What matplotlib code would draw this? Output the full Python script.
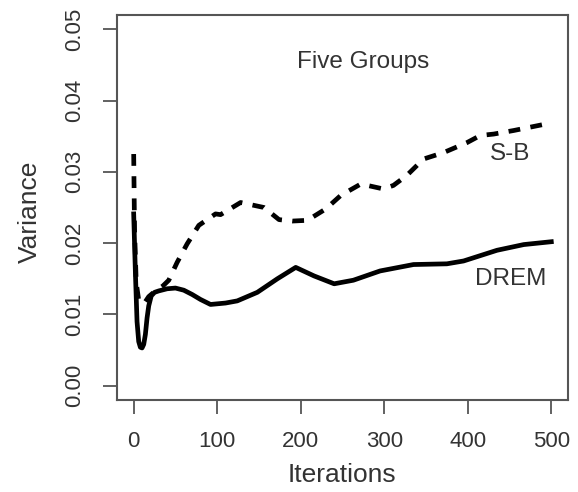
import matplotlib
matplotlib.use("Agg")
import matplotlib.pyplot as plt

plt.rcParams["font.family"] = ["Liberation Sans", "DejaVu Sans"]

# DREM (solid)
drem_x = [0, 2, 4, 6, 8, 10, 12, 14, 16, 18, 21, 25, 30, 40, 50, 60, 70, 80, 92,
          110, 124, 148, 172, 194, 216, 240, 263, 295, 335, 375, 395, 435, 467, 500]
drem_y = [0.0241, 0.0160, 0.0090, 0.0062, 0.0054, 0.0053, 0.0058, 0.0072, 0.0095,
          0.0112, 0.0126, 0.0131, 0.0133, 0.0136, 0.0137, 0.0134, 0.0128, 0.0121,
          0.0114, 0.0116, 0.0119, 0.0131, 0.0150, 0.0166, 0.0154, 0.0143, 0.0148,
          0.0161, 0.0170, 0.0171, 0.0175, 0.0190, 0.0198, 0.0202]

# S-B (dashed)
sb_x = [0, 1, 3, 6, 10, 14, 18, 25, 35, 42, 52, 64, 78, 98, 104, 128, 156, 174,
        190, 208, 230, 248, 272, 299, 311, 327, 347, 371, 399, 415, 431, 455, 493]
sb_y = [0.0325, 0.0220, 0.0145, 0.0120, 0.0115, 0.0118, 0.0125, 0.0132, 0.0140,
        0.0148, 0.0173, 0.0199, 0.0225, 0.0241, 0.0240, 0.0257, 0.0250, 0.0233,
        0.0231, 0.0232, 0.0248, 0.0267, 0.0283, 0.0276, 0.0281, 0.0295, 0.0318,
        0.0327, 0.0341, 0.0351, 0.0353, 0.0358, 0.0367]

xticks = [0, 100, 200, 300, 400, 500]
yticks = [0.00, 0.01, 0.02, 0.03, 0.04, 0.05]

TXT = "#333333"
BOX = "#555555"

fig = plt.figure(figsize=(5.78, 4.92), dpi=100)
ax = fig.add_axes([0.2024, 0.187, 0.7803, 0.7825])

ax.plot(sb_x, sb_y, color="black", lw=3.4, ls=(0, (2.5, 2.2)))
ax.plot(drem_x, drem_y, color="black", lw=3.4, solid_joinstyle="round")

ax.set_xlim(-20, 520)
ax.set_ylim(-0.002, 0.052)
ax.set_xticks(xticks)
ax.set_yticks(yticks)
ax.set_xticklabels([str(t) for t in xticks])
ax.set_yticklabels([f"{t:.2f}" for t in yticks], rotation=90, va="center")

ax.tick_params(axis="both", direction="out", length=10, width=1.3, color=BOX,
               labelsize=16, labelcolor=TXT)
ax.tick_params(axis="x", pad=12)
ax.tick_params(axis="y", pad=13)
for s in ax.spines.values():
    s.set_color(BOX)
    s.set_linewidth(1.5)

ax.set_xlabel("Iterations", fontsize=19, color=TXT)
ax.set_ylabel("Variance", fontsize=19, color=TXT)
ax.xaxis.set_label_coords(0.499, -0.164)
ax.yaxis.set_label_coords(-0.166, 0.49)

ax.text(275, 0.0454, "Five Groups", fontsize=17.5, color=TXT, ha="center", va="center")
ax.text(451, 0.0325, "S-B", fontsize=17.5, color=TXT, ha="center", va="center")
ax.text(451, 0.0150, "DREM", fontsize=17.5, color=TXT, ha="center", va="center")

fig.savefig("out.png", dpi=100)
